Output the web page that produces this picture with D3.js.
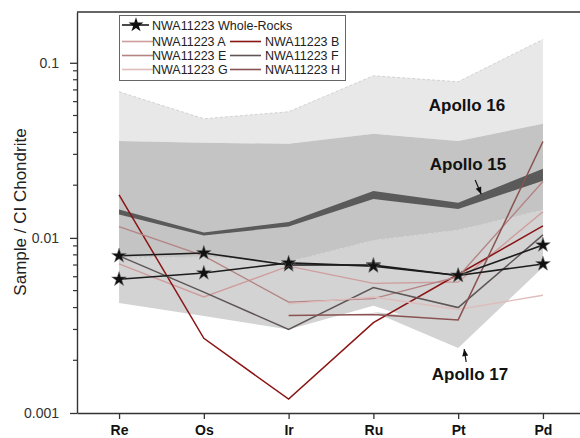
<!DOCTYPE html>
<html>
<head>
<meta charset="utf-8">
<script src="https://cdn.jsdelivr.net/npm/d3@7"></script>
<style>
  html, body { margin: 0; padding: 0; background: #fff; }
  svg { display: block; font-family: "Liberation Sans", Arial, sans-serif; }
</style>
</head>
<body>
<svg id="chart" width="580" height="438"></svg>
<script>
// ---------------- DATA ----------------
const elements = ["Re", "Os", "Ir", "Ru", "Pt", "Pd"];
const yTickValues = [0.001, 0.01, 0.1];
const yTickLabels = ["0.001", "0.01", "0.1"];

// Whole rocks (two samples, star markers)
const wholeRock1 = [0.0079, 0.0082, 0.0070, 0.0070, 0.0061, 0.0091];
const wholeRock2 = [0.0058, 0.0063, 0.0072, 0.0069, 0.0061, 0.0071];

// Individual fragments
const sampleA = [0.0071, 0.0046, 0.0069, 0.0055, 0.0056, 0.0141];
const sampleB = [0.0176, 0.00267, 0.0012, 0.00328, 0.0062, 0.0117];
const sampleE = [0.0116, 0.0079, 0.0043, 0.0045, 0.0060, 0.0210];
const sampleF = [0.0079, 0.0049, 0.0030, 0.0052, 0.0040, 0.0104];
const sampleG = [null, null, 0.0042, 0.0046, 0.0039, 0.0047];
const sampleH = [null, null, 0.0036, 0.00365, 0.0034, 0.0355];

// Apollo ranges
const apollo16Top    = [0.0683, 0.0479, 0.0525, 0.0843, 0.0779, 0.136];
const apollo15Top    = [0.0358, 0.0349, 0.0345, 0.0393, 0.0358, 0.0449];
const lowerTop       = [0.0077, 0.0078, 0.0073, 0.0097, 0.0111, 0.01445];
const lowerBottom    = [0.00425, 0.00358, 0.0030, 0.0041, 0.00286, 0.0068];
const apollo17Top    = [null, null, null, 0.00378, 0.0034, 0.0110];
const apollo17Bottom = [null, null, null, 0.00378, 0.00235, 0.0068];
const apollo15BandHi = [0.01455, 0.01075, 0.01234, 0.01855, 0.0159, 0.0248];
const apollo15BandLo = [0.01362, 0.01033, 0.01163, 0.0167, 0.0146, 0.0212];

// ---------------- CHART ----------------
const svg = d3.select("#chart");
const mLeft = 77, mRight = 580, mTop = 12, mBottom = 413;

const x = d3.scaleLinear().domain([-0.496, 5.437]).range([mLeft, mRight]);
const y = d3.scaleLog().domain([0.001, 0.195]).range([mBottom, mTop]);

const idx = d3.range(elements.length);

function band(hi, lo) {
  return d3.area()
    .defined(i => hi[i] != null && lo[i] != null)
    .x(i => x(i)).y0(i => y(lo[i])).y1(i => y(hi[i]))(idx);
}
function lineOf(vals) {
  return d3.line().defined(i => vals[i] != null).x(i => x(i)).y(i => y(vals[i]))(idx);
}

// Regions
svg.append("path").attr("d", band(apollo16Top, apollo15Top)).attr("fill", "#e8e8e8");
svg.append("path").attr("d", lineOf(apollo16Top)).attr("fill", "none")
  .attr("stroke", "#d2d2d2").attr("stroke-width", 1).attr("stroke-dasharray", "3,2");
svg.append("path").attr("d", band(apollo15Top, lowerTop)).attr("fill", "#c4c4c4");
svg.append("path").attr("d", band(lowerTop, lowerBottom)).attr("fill", "#d3d3d3");
svg.append("path").attr("d", band(apollo17Top, apollo17Bottom)).attr("fill", "#d3d3d3");
svg.append("path").attr("d", lineOf(lowerTop)).attr("fill", "none")
  .attr("stroke", "#c9c9c9").attr("stroke-width", 1).attr("stroke-dasharray", "3,2");
svg.append("path").attr("d", band(apollo15BandHi, apollo15BandLo)).attr("fill", "#5a5a5a");

// Sample lines
const samples = [
  { name: "NWA11223 A", vals: sampleA, color: "#cf9d9d", w: 1.4 },
  { name: "NWA11223 B", vals: sampleB, color: "#8b1414", w: 1.5 },
  { name: "NWA11223 E", vals: sampleE, color: "#b48484", w: 1.4 },
  { name: "NWA11223 F", vals: sampleF, color: "#5f5555", w: 1.5 },
  { name: "NWA11223 G", vals: sampleG, color: "#dfbdbd", w: 1.4 },
  { name: "NWA11223 H", vals: sampleH, color: "#8a5252", w: 1.5 }
];
samples.forEach(s => {
  svg.append("path").attr("d", lineOf(s.vals)).attr("fill", "none")
    .attr("stroke", s.color).attr("stroke-width", s.w);
});

// Whole rocks
const star = d3.symbol().type(d3.symbolStar).size(68);
[wholeRock1, wholeRock2].forEach(vals => {
  svg.append("path").attr("d", lineOf(vals)).attr("fill", "none")
    .attr("stroke", "#1c1c1c").attr("stroke-width", 1.6);
});
[wholeRock1, wholeRock2].forEach(vals => {
  svg.selectAll(null).data(idx.filter(i => vals[i] != null)).enter().append("path")
    .attr("d", star).attr("transform", i => `translate(${x(i)},${y(vals[i])})`)
    .attr("fill", "#111").attr("stroke", "#777").attr("stroke-width", 0.5);
});

// Axes
const axisColor = "#333";
svg.append("line").attr("x1", mLeft).attr("x2", mRight).attr("y1", mTop).attr("y2", mTop)
  .attr("stroke", axisColor).attr("stroke-width", 1.3);

const yAxis = svg.append("g").attr("transform", `translate(${mLeft},0)`)
  .call(d3.axisLeft(y).tickValues(yTickValues).tickFormat((d, i) => yTickLabels[i])
    .tickSize(7).tickSizeOuter(0).tickPadding(11));
const minor = [];
[0.001, 0.01, 0.1].forEach(dec => { for (let k = 2; k <= 9; k++) { const v = dec * k; if (v <= 0.195) minor.push(v); } });
yAxis.selectAll(".minor").data(minor).enter().append("line").attr("class", "minor")
  .attr("x1", 0).attr("x2", -4).attr("y1", d => y(d)).attr("y2", d => y(d))
  .attr("stroke", axisColor).attr("stroke-width", 1.2);
yAxis.select(".domain").attr("stroke", axisColor).attr("stroke-width", 1.4);
yAxis.selectAll(".tick line").attr("stroke", axisColor).attr("stroke-width", 1.3);
yAxis.selectAll(".tick text").attr("font-size", 14).attr("fill", "#333")
  .attr("font-family", "'Liberation Sans', Arial, sans-serif");

const xAxis = svg.append("g").attr("transform", `translate(0,${mBottom})`)
  .call(d3.axisBottom(x).tickValues(idx).tickFormat(i => elements[i]).tickSize(6).tickSizeOuter(0).tickPadding(6));
xAxis.select(".domain").attr("stroke", axisColor).attr("stroke-width", 1.4);
xAxis.selectAll(".tick line").attr("stroke", axisColor).attr("stroke-width", 1.3);
xAxis.selectAll(".tick text").attr("font-size", 14).attr("font-weight", "bold").attr("fill", "#111")
  .attr("font-family", "'Liberation Sans', Arial, sans-serif");

// Y title
svg.append("text").attr("transform", "translate(26,212) rotate(-90)")
  .attr("text-anchor", "middle").attr("font-size", 17).attr("fill", "#222")
  .text("Sample / CI Chondrite");

// Annotations
const ann = svg.append("g").attr("font-weight", "bold").attr("font-size", 17).attr("fill", "#111")
  .attr("text-anchor", "middle");
ann.append("text").attr("x", 467).attr("y", 111).text("Apollo 16");
ann.append("text").attr("x", 468).attr("y", 170).text("Apollo 15");
ann.append("text").attr("x", 470).attr("y", 380).text("Apollo 17");

function arrow(x1, y1, x2, y2) {
  svg.append("line").attr("x1", x1).attr("y1", y1).attr("x2", x2).attr("y2", y2)
    .attr("stroke", "#111").attr("stroke-width", 1.2);
  const a = Math.atan2(y2 - y1, x2 - x1), L = 7, W = 3;
  const bx = x2 - L * Math.cos(a), by = y2 - L * Math.sin(a);
  const px = -Math.sin(a) * W, py = Math.cos(a) * W;
  svg.append("path").attr("d", `M${x2},${y2}L${bx + px},${by + py}L${bx - px},${by - py}Z`).attr("fill", "#111");
}
arrow(x(4) + 17, 180, x(4) + 23, y(apollo15BandHi[4]) - 8.5);
arrow(x(4) + 8, 362, x(4) + 6, y(apollo17Bottom[4]) + 1);

// Legend
const lg = svg.append("g");
lg.append("rect").attr("x", 119.5).attr("y", 15.5).attr("width", 226).attr("height", 65)
  .attr("fill", "#fff").attr("stroke", "#666").attr("stroke-width", 1);
const lgFont = 12.5;
lg.append("line").attr("x1", 122).attr("x2", 149).attr("y1", 25).attr("y2", 25)
  .attr("stroke", "#1c1c1c").attr("stroke-width", 1.6);
lg.append("path").attr("d", star).attr("transform", "translate(136,25)").attr("fill", "#111");
lg.append("text").attr("x", 152).attr("y", 29.5).attr("font-size", lgFont).attr("fill", "#222")
  .text("NWA11223 Whole-Rocks");
const rowsY = [41.5, 55.5, 69.5];
samples.forEach((s, i) => {
  const r = Math.floor(i / 2), c = i % 2;
  const lx = c === 0 ? 122 : 230, tx = c === 0 ? 152 : 265;
  lg.append("line").attr("x1", lx).attr("x2", lx + 31).attr("y1", rowsY[r]).attr("y2", rowsY[r])
    .attr("stroke", s.color).attr("stroke-width", 1.6);
  lg.append("text").attr("x", tx).attr("y", rowsY[r] + 4.5).attr("font-size", lgFont).attr("fill", "#222")
    .text(s.name);
});
</script>
</body>
</html>
